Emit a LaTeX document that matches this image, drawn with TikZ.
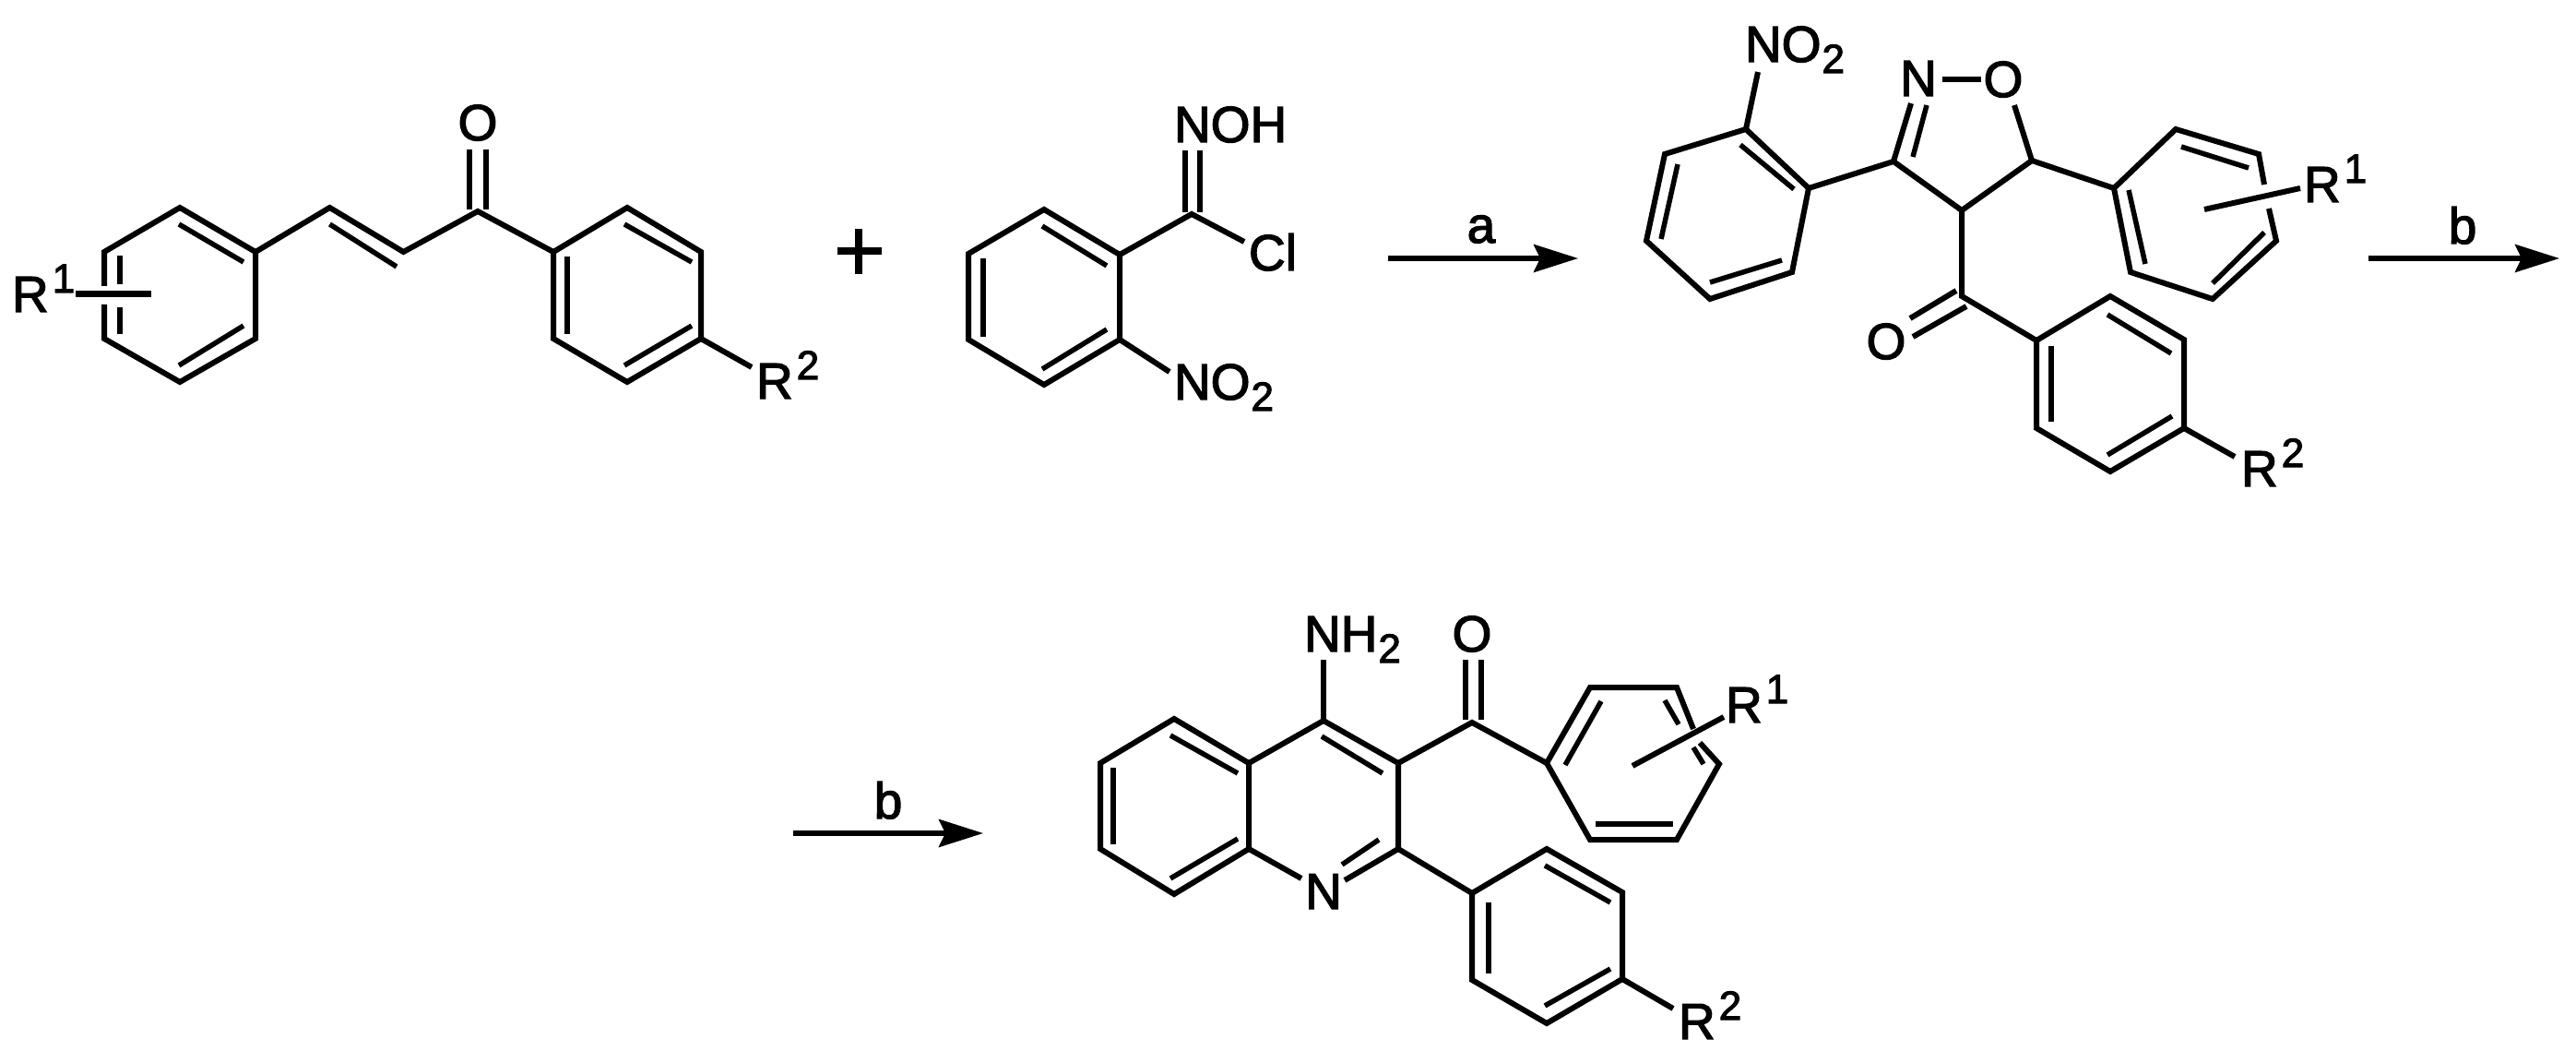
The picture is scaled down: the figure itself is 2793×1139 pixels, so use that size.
\documentclass[tikz,border=0pt]{standalone}
\usepackage{fontspec}
\setmainfont{Liberation Sans}
\newfontfamily\atomfam{Liberation Sans}[RawFeature={embolden=2.4}]
\usetikzlibrary{arrows.meta}
\newcommand{\atomfont}{\atomfam\fontsize{55}{60}\selectfont}
\newcommand{\supr}[1]{\kern4pt\raisebox{21pt}{\fontsize{44}{44}\selectfont #1}}
\newcommand{\subr}[1]{\kern1pt\raisebox{-12pt}{\fontsize{44}{44}\selectfont #1}}
\tikzset{
  bond/.style={line width=6pt,line join=miter,black},
  inner/.style={line width=5.5pt,black},
  atom/.style={inner sep=0pt,outer sep=0pt,anchor=base west,font=\atomfont,text=black},
  catom/.style={inner sep=0pt,outer sep=0pt,anchor=base,font=\atomfont,text=black},
  rxn/.style={line width=5.5pt,black,-{Stealth[length=48pt,width=30pt,inset=7pt]}},
}
\begin{document}
\begin{tikzpicture}[x=1pt,y=-1pt]
\useasboundingbox (0,0) rectangle (2793,1139);
% ---------- chalcone
\foreach \n/\x/\y in {a1/277/273,a2/277/367,a3/195/414,a4/113/367,a5/113/273,a6/195/225,
  c1/357.5/225,c2/437.4/273,c3/518/229,
  b1/600/273,b2/680/225,b3/760/273,b4/760/367,b5/680/414,b6/600/367,
  r2e/815/398,bara/82/319,barb/164/319,gapa/113/310,gapb/113/330,
  coa/509/162,cob/509/227,coc/527/162,cod/527/227}
  \coordinate (\n) at (\x,\y);
\node[atom] (r1a) at (13,338) {R\supr{1}};
\node[atom] (r2a) at (820,432) {R\supr{2}};
\node[catom] (oa) at (518,152) {O};
\draw[bond] (gapa) -- (a5) -- (a6) -- (a1) -- (a2) -- (a3) -- (a4) -- (gapb);
\draw[bond] (a1) -- (c1) -- (c2) -- (c3) -- (b1);
\draw[bond] (b1) -- (b2) -- (b3) -- (b4) -- (b5) -- (b6) -- cycle;
\draw[bond] (b4) -- (r2e);
\draw[bond] (coa) -- (cob);
\draw[bond] (coc) -- (cod);
\draw[line width=7pt,black] (bara) -- (barb);
\draw[inner] (130,277) -- (130,308);
\draw[inner] (130,333) -- (130,362);
\draw[inner] (194,243) -- (264,284);
\draw[inner] (194,396) -- (264,353);
\draw[inner] (357.5,243) -- (430,289);
\draw[inner] (615,278) -- (615,362);
\draw[inner] (677,243) -- (750,284);
\draw[inner] (677,396) -- (750,353);
% plus
\coordinate (pl) at (908,272); \coordinate (pr) at (956,272);
\coordinate (pt) at (931,248); \coordinate (pb) at (931,297);
\draw[line width=8pt,black] (pl) -- (pr);
\draw[line width=8pt,black] (pt) -- (pb);
% ---------- hydroximoyl chloride
\foreach \n/\x/\y in {d1/1132/227,d2/1214/276,d3/1214/368,d4/1132/417,d5/1050/368,d6/1050/275,
  d7/1292/232,cle/1349/262,noe/1268/403,dna/1285/163,dnb/1285/230,dnc/1301/163,dnd/1301/230,
  aa/1505/280,ab/1711/280}
  \coordinate (\n) at (\x,\y);
\node[atom] (noh) at (1273,154) {NOH};
\node[atom] (cl) at (1354,293) {Cl};
\node[atom] (no2a) at (1273,433) {NO\subr{2}};
\draw[bond] (d1) -- (d2) -- (d3) -- (d4) -- (d5) -- (d6) -- cycle;
\draw[bond] (d2) -- (d7) -- (cle);
\draw[bond] (d3) -- (noe);
\draw[bond] (dna) -- (dnb);
\draw[bond] (dnc) -- (dnd);
\draw[inner] (1130,245) -- (1200,288);
\draw[inner] (1066,280) -- (1066,365);
\draw[inner] (1130,400) -- (1200,357);
\draw[rxn] (aa) -- (ab);
\node[catom] (la) at (1606,263) {a};
% ---------- isoxazoline
\foreach \n/\x/\y in {e1/1893/140,e2/1961/204,e3/1943/295,e4/1854/324,e5/1785/261,e6/1805/167,
  noeb/1906/78,i3/2053/175,i4/2127/228,i5/2203/174,ine/2072/112,ioe/2184/114,
  nob/2106/86,noc/2148/86,k/2127/321,
  f1/2208/369,f2/2288/321,f3/2368/368,f4/2368/464,f5/2288/511,f6/2208/464,fr/2423/495,
  g1/2292/204,g2/2359/140,g3/2449/167,g4/2468/261,g5/2399/324,g6/2310/295,
  gapc/2455/200,gapd/2460/226,barc/2390/227,bard/2494/204,
  ca/2568/280,cb/2775/280,
  koa/2121/315,kob/2071/345,koc/2132/332,kod/2074/365}
  \coordinate (\n) at (\x,\y);
\node[atom] (no2b) at (1892,67) {NO\subr{2}};
\node[catom] (nis) at (2080,104) {N};
\node[catom] (ois) at (2172,105) {O};
\node[catom] (ok) at (2045,389) {O};
\node[atom] (r1b) at (2498,219) {R\supr{1}};
\node[atom] (r2b) at (2430,527) {R\supr{2}};
\draw[bond] (e1) -- (e2) -- (e3) -- (e4) -- (e5) -- (e6) -- cycle;
\draw[bond] (e1) -- (noeb);
\draw[bond] (e2) -- (i3) -- (i4) -- (i5) -- (g1);
\draw[bond] (i3) -- (ine);
\draw[bond] (i5) -- (ioe);
\draw[bond] (nob) -- (noc);
\draw[bond] (i4) -- (k) -- (f1);
\draw[bond] (koa) -- (kob);
\draw[bond] (koc) -- (kod);
\draw[bond] (f1) -- (f2) -- (f3) -- (f4) -- (f5) -- (f6) -- cycle;
\draw[bond] (f4) -- (fr);
\draw[bond] (gapc) -- (g3) -- (g2) -- (g1) -- (g6) -- (g5) -- (g4) -- (gapd);
\draw[bond] (barc) -- (bard);
\draw[inner] (2074,170) -- (2089,114);
\draw[inner] (1887,157) -- (1945,205);
\draw[inner] (1819,178) -- (1801,259);
\draw[inner] (1854,306) -- (1932,282);
\draw[inner] (2285,341) -- (2354,383);
\draw[inner] (2224,375) -- (2224,457);
\draw[inner] (2285,493) -- (2355,451);
\draw[inner] (2365,159) -- (2438,182);
\draw[inner] (2308,206) -- (2326,286);
\draw[inner] (2455,252) -- (2399,307);
\draw[rxn] (ca) -- (cb);
\node[catom] (lb) at (2670,264) {b};
% ---------- quinoline
\foreach \n/\x/\y in {q1/1273/779,q2/1354/827,q3/1354/920,q4/1273/969,q5/1193/920,q6/1193/827,
  q7/1435/781,q8/1516/827,q9/1516/920,qne/1411/952,qnf/1458/954,qam/1435/715,
  qk/1596/783,qoa/1589/715,qob/1589/780,qoc/1606/715,qod/1606/780,
  h1/1677/827,h2/1724/745,h3/1818/745,h4/1864/828,h5/1818/910,h6/1724/910,
  gape/1836/790,gapf/1843/805,bare/1770/830,barf/1869/777,
  j1/1596/968,j2/1677/920,j3/1759/967,j4/1759/1061,j5/1677/1109,j6/1596/1062,jr/1814/1093,
  da/860/903,db/1066/903}
  \coordinate (\n) at (\x,\y);
\node[atom] (nh2) at (1414,706) {NH\subr{2}};
\node[catom] (oq) at (1596,706) {O};
\node[catom] (nq) at (1435,985) {N};
\node[atom] (r1c) at (1871,783) {R\supr{1}};
\node[atom] (r2c) at (1820,1126) {R\supr{2}};
\draw[bond] (q1) -- (q2) -- (q3) -- (q4) -- (q5) -- (q6) -- cycle;
\draw[bond] (q2) -- (q7) -- (q8) -- (q9) -- (qnf);
\draw[bond] (q3) -- (qne);
\draw[bond] (q7) -- (qam);
\draw[bond] (q8) -- (qk) -- (h1);
\draw[bond] (qoa) -- (qob);
\draw[bond] (qoc) -- (qod);
\draw[bond] (gapf) -- (h4) -- (h5) -- (h6) -- (h1) -- (h2) -- (h3) -- (gape);
\draw[bond] (bare) -- (barf);
\draw[bond] (q9) -- (j1);
\draw[bond] (j1) -- (j2) -- (j3) -- (j4) -- (j5) -- (j6) -- cycle;
\draw[bond] (j4) -- (jr);
\draw[inner] (1269,797) -- (1342,838);
\draw[inner] (1207,832) -- (1207,915);
\draw[inner] (1269,952) -- (1342,909);
\draw[inner] (1433,798) -- (1499,838);
\draw[inner] (1495,910) -- (1455,937);
\draw[inner] (1736,760) -- (1697,829);
\draw[inner] (1805,759) -- (1820,785);
\draw[inner] (1836,810) -- (1847,828);
\draw[inner] (1730,893) -- (1814,893);
\draw[inner] (1675,938) -- (1746,978);
\draw[inner] (1614,978) -- (1614,1055);
\draw[inner] (1675,1090) -- (1746,1050);
\draw[rxn] (da) -- (db);
\node[catom] (lc) at (963,887) {b};
\end{tikzpicture}
\end{document}
